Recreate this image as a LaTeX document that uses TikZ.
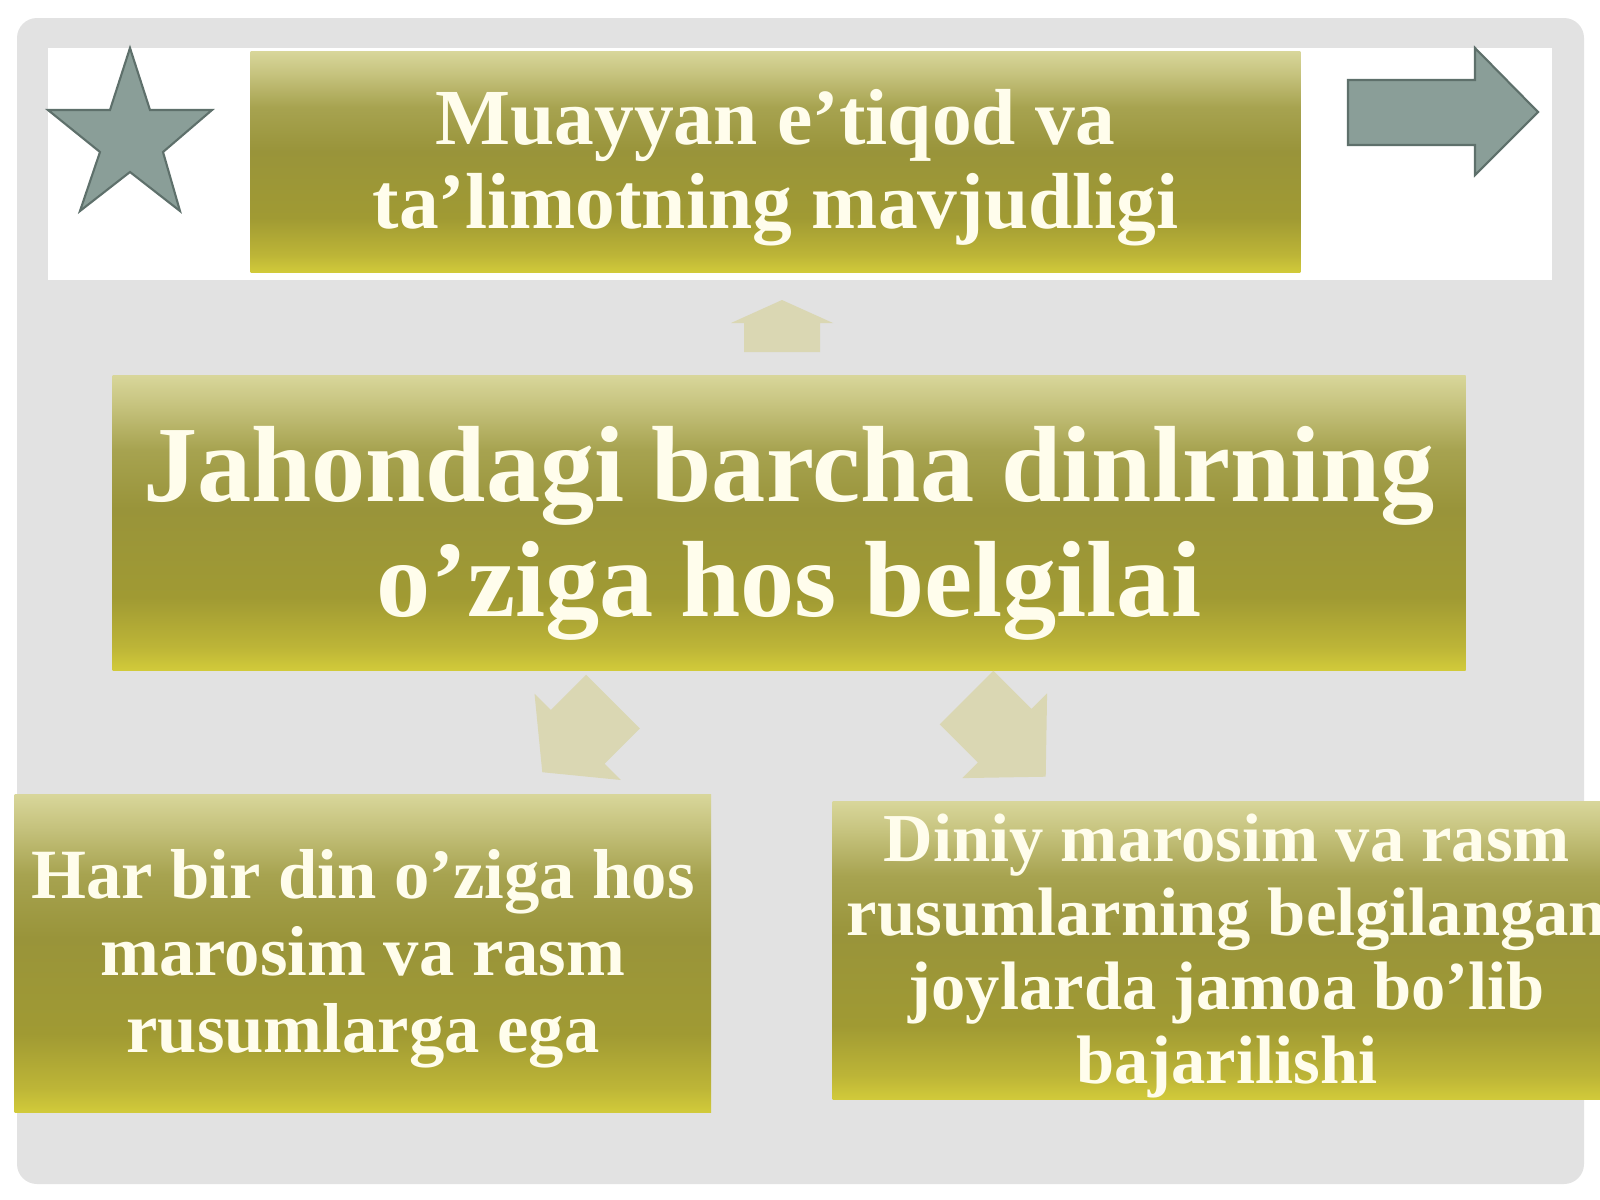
\documentclass[tikz,border=0pt]{standalone}
\usepackage{fontspec}
\setmainfont{Liberation Serif}
\definecolor{panel}{HTML}{E2E2E2}
\definecolor{soyarang}{HTML}{DAD7B3}
\definecolor{belgirang}{HTML}{8A9E98}
\definecolor{belgichiziq}{HTML}{5E706B}
\definecolor{matnrang}{HTML}{FFFDEC}
\definecolor{zay0}{HTML}{D2CB3A}
\definecolor{zay1}{HTML}{BDB537}
\definecolor{zay2}{HTML}{A09A33}
\definecolor{zay3}{HTML}{99943A}
\definecolor{zay4}{HTML}{A7A350}
\definecolor{zay5}{HTML}{C6C37E}
\definecolor{zay6}{HTML}{D8D69A}
% the box is fitted into 25bp..75bp of the shading
\pgfdeclareverticalshading{zaytun}{100bp}{color(0bp)=(zay0); color(25bp)=(zay0);
  color(29bp)=(zay1); color(37.5bp)=(zay2); color(52.5bp)=(zay3);
  color(62.5bp)=(zay4); color(70bp)=(zay5); color(75bp)=(zay6); color(100bp)=(zay6)}
\tikzset{
  blok/.style={shade,shading=zaytun,inner sep=0pt,anchor=north west},
  matn/.style={text=matnrang,align=center,inner sep=0pt},
  belgi/.style={fill=belgirang,draw=belgichiziq,line width=0.6pt},
  soya/.style={fill=soyarang},
}
\begin{document}
\begin{tikzpicture}[x=0.01cm,y=0.01cm]
\fill[white] (0,0) rectangle (1600,-1200);
\useasboundingbox (0,0) rectangle (1600,-1200);
%
\fill[panel,rounded corners=0.2cm] (17,-18) rectangle (1584,-1184);
\fill[white] (48,-48) rectangle (1552,-280);
%
\draw[belgi] (130,-48)--(150,-110)--(212,-110)--(163,-152)--(180,-211)--(130,-172)
  --(80,-211)--(100,-152)--(48,-110)--(110,-110)--cycle;
\draw[belgi] (1348,-80)--(1475,-80)--(1475,-48)--(1538,-112)--(1475,-175)--(1475,-145)
  --(1348,-145)--cycle;
%===========================
\node[blok,minimum width=10.49cm,minimum height=2.21cm] (yuqori) at (250,-51) {};
\node[blok,minimum width=13.52cm,minimum height=2.95cm] (markaz) at (112,-375) {};
\node[blok,minimum width=6.96cm,minimum height=3.18cm] (chap) at (14,-794) {};
\node[blok,minimum width=7.88cm,minimum height=2.98cm] (ong) at (832,-801) {};
%
\node[matn,font={\fontsize{22.6}{23.9}\selectfont\bfseries},yshift=-0.05cm] (yuqorimatn) at (yuqori)
  {Muayyan e’tiqod va\\ta’limotning mavjudligi};
\node[matn,font={\fontsize{30.8}{32.7}\selectfont\bfseries},yshift=-0.1cm] (markazmatn) at (markaz)
  {Jahondagi barcha dinlrning\\o’ziga hos belgilai};
\node[matn,font={\fontsize{20.1}{21.9}\selectfont\bfseries},yshift=-0.05cm] (chapmatn) at (chap)
  {Har bir din o’ziga hos\\marosim va rasm\\rusumlarga ega};
\node[matn,font={\fontsize{19.5}{21}\selectfont\bfseries},yshift=-0.05cm] (ongmatn) at (ong)
  {Diniy marosim va rasm\\rusumlarning belgilangan\\joylarda jamoa bo’lib\\bajarilishi};
%================================
\foreach \x/\y/\a/\s/\h/\w in {782/-352/0/29/23/51,613/-701.5/135/50/50/61,966.5/-697.5/-135/54/58/60}
  {\fill[soya,shift={(\x,\y)},rotate=\a] (-38,0)--(-38,\s)--(-\w,\s)--(0,\s+\h)--(\w,\s)--(38,\s)--(38,0)--cycle;}
\end{tikzpicture}
\end{document}
